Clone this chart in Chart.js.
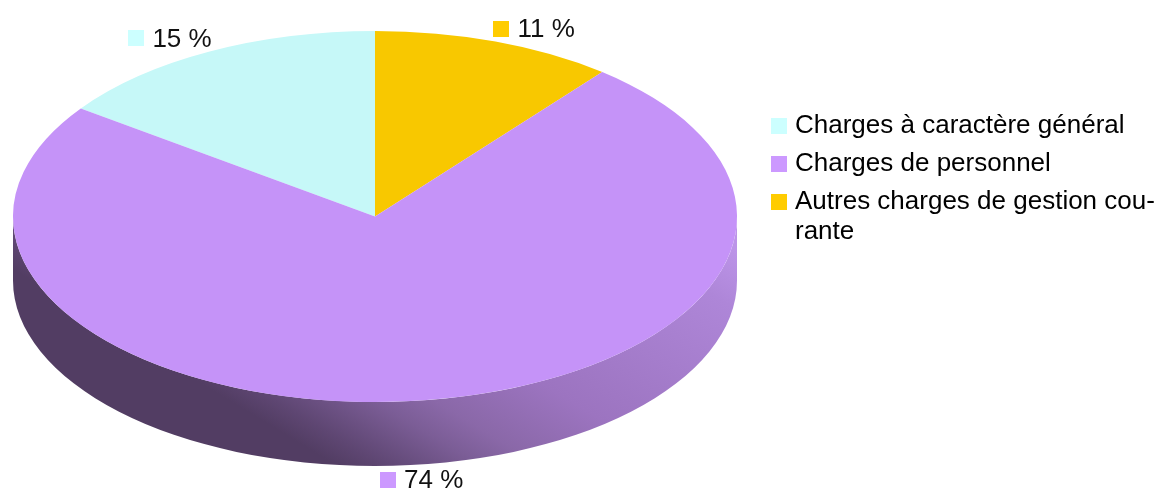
<!DOCTYPE html>
<html>
<head>
<meta charset="utf-8">
<title>Charges</title>
<script src="https://cdn.jsdelivr.net/npm/chart.js@4"></script>
<style>
  html, body { margin: 0; padding: 0; background: #fff; }
  canvas { display: block; }
</style>
</head>
<body>
<canvas id="pie" width="1160" height="491"></canvas>
<script>
// slices in clockwise order, the legend lists them in another order
const categories = ['Charges à caractère général', 'Autres charges de gestion courante', 'Charges de personnel'];
const shares = [15.1, 10.8, 74.1];
const topColors = ['#c6f8f8', '#f8c800', '#c593f8'];
const keyColors = ['#ccffff', '#ffcc00', '#cc99ff'];
const legendOrder = [0, 2, 1];
const legendText = ['Charges à caractère général', ['Autres charges de gestion cou-', 'rante'], 'Charges de personnel'];

const FONT = '"Liberation Sans", Arial, sans-serif';
const X_STRETCH = 362 / 185.5; // pie is a circle for Chart.js, squashed into an ellipse when painted
const WALL = 64;

const tilted = {
  id: 'tilted',
  beforeDatasetDraw(chart) {
    const arc = chart.getDatasetMeta(0).data[0];
    const { ctx } = chart;
    const r = arc.outerRadius;

    // side wall, only the front half of the ellipse shows
    const g = ctx.createLinearGradient(207, 387, 410, 52);
    g.addColorStop(0, '#523d63');
    g.addColorStop(0.06, '#5e4672');
    g.addColorStop(0.19, '#7b5d96');
    g.addColorStop(0.27, '#8a68a8');
    g.addColorStop(0.45, '#9c74c0');
    g.addColorStop(0.87, '#ae86d8');
    g.addColorStop(1, '#bc94e8');
    ctx.save();
    ctx.fillStyle = g;
    ctx.beginPath();
    ctx.ellipse(arc.x, arc.y, r * X_STRETCH, r, 0, 0, Math.PI);
    ctx.lineTo(arc.x - r * X_STRETCH, arc.y + WALL);
    ctx.ellipse(arc.x, arc.y + WALL, r * X_STRETCH, r, 0, Math.PI, 0, true);
    ctx.closePath();
    ctx.fill();
    ctx.restore();

    ctx.save();
    ctx.translate(arc.x, arc.y);
    ctx.scale(X_STRETCH, 1);
    ctx.translate(-arc.x, -arc.y);
  },
  afterDatasetDraw(chart) {
    chart.ctx.restore();
  },
  afterLayout(chart) {
    // legend sits in the free space right of the pie
    const box = chart.legend;
    const w = box.right - box.left;
    const h = box.bottom - box.top;
    box.left = 764;
    box.top = 101;
    box.right = box.left + w;
    box.bottom = box.top + h;
  },
  afterDatasetsDraw(chart) {
    const { ctx } = chart;
    chart.getDatasetMeta(0).data.forEach((arc, i) => {
      const p = arc.getProps(['x', 'y', 'startAngle', 'endAngle', 'outerRadius']);
      const mid = (p.startAngle + p.endAngle) / 2;
      const front = Math.sin(mid) > 0;
      const ax = p.x + p.outerRadius * X_STRETCH * Math.cos(mid);
      const ay = p.y + p.outerRadius * Math.sin(mid) + (front ? WALL : 0);
      const text = Math.round(shares[i]) + ' %';
      ctx.save();
      ctx.font = '26px ' + FONT;
      const width = 24 + ctx.measureText(text).width;
      let left = ax - 2;
      if (Math.abs(Math.cos(mid)) < 0.2) left = ax - width / 2 - 2;
      else if (Math.cos(mid) < 0) left = ax - width + 2;
      const cy = ay + (front ? 16 : -13);
      ctx.fillStyle = keyColors[i];
      ctx.fillRect(Math.round(left), Math.round(cy) - 8, 16, 16);
      ctx.fillStyle = '#111';
      ctx.textBaseline = 'middle';
      ctx.fillText(text, left + 24, cy + 1);
      ctx.restore();
    });
  }
};

new Chart(document.getElementById('pie'), {
  type: 'pie',
  data: {
    labels: categories,
    datasets: [{
      data: shares,
      backgroundColor: topColors,
      borderWidth: 0
    }]
  },
  options: {
    responsive: false,
    animation: false,
    devicePixelRatio: 1,
    rotation: -shares[0] * 3.6,
    layout: { padding: { left: 13, right: 423, top: 31, bottom: 89 } },
    plugins: {
      tooltip: { enabled: false },
      legend: {
        position: 'chartArea',
        align: 'start',
        labels: {
          color: '#111',
          // small box plus thick border: keeps the 16px key close to its text
          boxWidth: 6,
          boxHeight: 6,
          padding: 12,
          font: { family: FONT, size: 26, lineHeight: 1.15 },
          generateLabels() {
            return legendOrder.map(i => ({
              text: legendText[i], fillStyle: keyColors[i], strokeStyle: keyColors[i], lineWidth: 10, index: i
            }));
          }
        }
      }
    }
  },
  plugins: [tilted]
});
</script>
</body>
</html>
